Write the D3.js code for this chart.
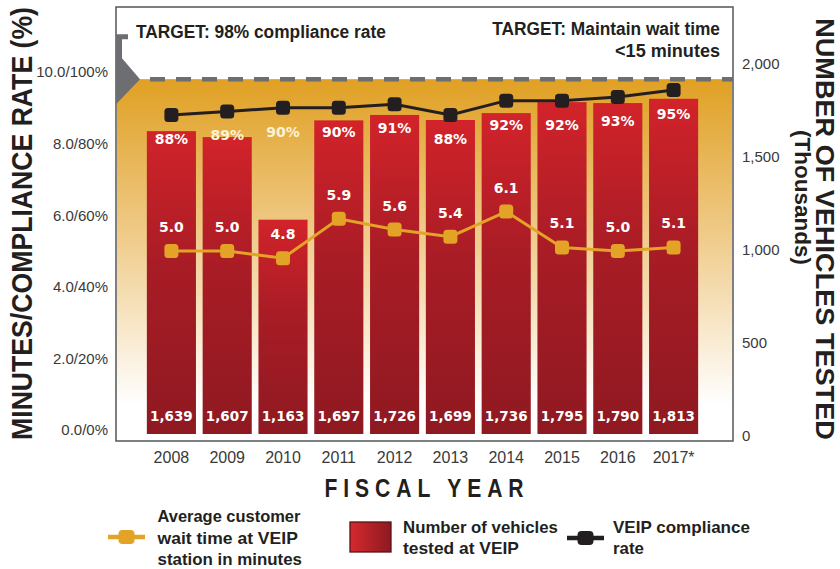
<!DOCTYPE html>
<html>
<head>
<meta charset="utf-8">
<script src="https://cdn.jsdelivr.net/npm/d3@7"></script>
<style>
  html, body { margin: 0; padding: 0; background: #ffffff; }
  svg { display: block; }
</style>
</head>
<body>
<div id="chart"></div>
<script>
// ---------------- DATA ----------------
const years = ["2008", "2009", "2010", "2011", "2012", "2013", "2014", "2015", "2016", "2017*"];
const vehiclesTested = [1639, 1607, 1163, 1697, 1726, 1699, 1736, 1795, 1790, 1813];
const waitTimeMinutes = [5.0, 5.0, 4.8, 5.9, 5.6, 5.4, 6.1, 5.1, 5.0, 5.1];
const complianceRate = [88, 89, 90, 90, 91, 88, 92, 92, 93, 95];
const leftTickValues = [0, 2, 4, 6, 8, 10];
const leftTickLabels = ["0.0/0%", "2.0/20%", "4.0/40%", "6.0/60%", "8.0/80%", "10.0/100%"];
const rightTickValues = [0, 500, 1000, 1500, 2000];
const complianceTarget = 98;
const legendWait = ["Average customer", "wait time at VEIP", "station in minutes"];
const legendBars = ["Number of vehicles", "tested at VEIP"];
const legendCompliance = ["VEIP compliance", "rate"];

// ---------------- SETUP ----------------
const W = 840, H = 569;
const frame = { left: 116, top: 7, right: 733, bottom: 441 };
const SANS = "'Liberation Sans', Arial, 'DejaVu Sans', sans-serif";
const LABEL = "'DejaVu Sans', Verdana, sans-serif";
const ORANGE = "#E3A326", BLACK = "#231F20", GREY = "#6D6E71";

const svg = d3.select("#chart").append("svg").attr("width", W).attr("height", H);
const defs = svg.append("defs");

const x = d3.scaleBand().domain(years).range([143.5, 701.5]).paddingInner(0.12).paddingOuter(0.06);
const yLeft = d3.scaleLinear().domain([0, 10]).range([430, 72]);
const yRight = d3.scaleLinear().domain([0, 2000]).range([436, 64]);

// condensed text helper: draws text, then squeezes/stretches it horizontally to the wanted width
function condensed(parent, o) {
  const g = parent.append("g").attr("transform", `translate(${o.x},${o.y}) rotate(${o.rotate || 0})`);
  const t = g.append("text")
    .attr("text-anchor", o.anchor || "start")
    .attr("font-family", SANS)
    .attr("font-weight", o.weight || 700)
    .attr("font-size", o.size)
    .attr("fill", o.fill || BLACK)
    .text(o.text);
  if (o.spacing) t.attr("letter-spacing", o.spacing);
  const w = t.node().getComputedTextLength();
  if (w > 0 && o.width) t.attr("transform", `scale(${(o.width / w).toFixed(4)},1)`);
  return t;
}

// gradients
const yT = yLeft(complianceTarget / 10);
const bg = defs.append("linearGradient").attr("id", "bgGrad")
  .attr("gradientUnits", "userSpaceOnUse").attr("x1", 0).attr("x2", 0)
  .attr("y1", yT).attr("y2", 405);
bg.append("stop").attr("offset", 0).attr("stop-color", "#E0A023");
bg.append("stop").attr("offset", 0.5).attr("stop-color", "#F0CD8E");
bg.append("stop").attr("offset", 1).attr("stop-color", "#FFFFFF");

const barGrad = defs.append("linearGradient").attr("id", "barGrad")
  .attr("x1", 0).attr("x2", 0).attr("y1", 0).attr("y2", 1);
barGrad.append("stop").attr("offset", 0).attr("stop-color", "#D2232A");
barGrad.append("stop").attr("offset", 0.45).attr("stop-color", "#A81C25");
barGrad.append("stop").attr("offset", 1).attr("stop-color", "#8F1921");

const legGrad = defs.append("linearGradient").attr("id", "legGrad")
  .attr("x1", 0).attr("x2", 1).attr("y1", 0).attr("y2", 0);
legGrad.append("stop").attr("offset", 0).attr("stop-color", "#D42A2F");
legGrad.append("stop").attr("offset", 1).attr("stop-color", "#8E1921");

// frame
svg.append("rect")
  .attr("x", frame.left).attr("y", frame.top)
  .attr("width", frame.right - frame.left).attr("height", frame.bottom - frame.top)
  .attr("fill", "#fff").attr("stroke", "#5E5F62").attr("stroke-width", 1.6);

// background gradient area (below target)
svg.append("rect")
  .attr("x", frame.left + 1).attr("y", yT)
  .attr("width", frame.right - frame.left - 2).attr("height", frame.bottom - yT - 1)
  .attr("fill", "url(#bgGrad)");

// grey target marker on left
svg.append("path")
  .attr("d", `M${frame.left},${yT - 45} H${frame.left + 12} V${yT - 40} H${frame.left + 6} V${yT - 21} L${frame.left + 24},${yT} L${frame.left},${yT + 25} Z`)
  .attr("fill", GREY);

// dashed target line
svg.append("line")
  .attr("x1", frame.left + 34).attr("x2", frame.right)
  .attr("y1", yT).attr("y2", yT)
  .attr("stroke", GREY).attr("stroke-width", 4.5)
  .attr("stroke-dasharray", "15,11");

// bars
svg.append("g").selectAll("rect").data(vehiclesTested).join("rect")
  .attr("x", (d, i) => x(years[i]))
  .attr("y", d => yRight(d))
  .attr("width", x.bandwidth())
  .attr("height", d => yRight(0) - yRight(d) - 2)
  .attr("fill", "url(#barGrad)");

// bar value labels
svg.append("g").selectAll("text").data(vehiclesTested).join("text")
  .attr("x", (d, i) => x(years[i]) + x.bandwidth() / 2)
  .attr("y", yRight(0) - 15.5)
  .attr("text-anchor", "middle")
  .attr("font-family", LABEL).attr("font-weight", 700).attr("font-size", 13.5)
  .attr("fill", "#fff")
  .text(d => d3.format(",")(d));

// wait-time line
const cx = i => x(years[i]) + x.bandwidth() / 2;
const waitLine = d3.line().x((d, i) => cx(i)).y(d => yLeft(d));
svg.append("path").datum(waitTimeMinutes)
  .attr("d", waitLine).attr("fill", "none")
  .attr("stroke", ORANGE).attr("stroke-width", 3);
svg.append("g").selectAll("rect").data(waitTimeMinutes).join("rect")
  .attr("x", (d, i) => cx(i) - 7).attr("y", d => yLeft(d) - 7)
  .attr("width", 14).attr("height", 14).attr("rx", 3.5)
  .attr("fill", ORANGE);
svg.append("g").selectAll("text").data(waitTimeMinutes).join("text")
  .attr("x", (d, i) => cx(i)).attr("y", d => yLeft(d) - 19)
  .attr("text-anchor", "middle")
  .attr("font-family", LABEL).attr("font-weight", 700).attr("font-size", 14)
  .attr("fill", "#fff")
  .text(d => d3.format(".1f")(d));

// compliance line
const compLine = d3.line().x((d, i) => cx(i)).y(d => yLeft(d / 10));
svg.append("path").datum(complianceRate)
  .attr("d", compLine).attr("fill", "none")
  .attr("stroke", BLACK).attr("stroke-width", 3);
svg.append("g").selectAll("rect").data(complianceRate).join("rect")
  .attr("x", (d, i) => cx(i) - 7).attr("y", d => yLeft(d / 10) - 7)
  .attr("width", 14).attr("height", 14).attr("rx", 3.5)
  .attr("fill", BLACK);
svg.append("g").selectAll("text").data(complianceRate).join("text")
  .attr("x", (d, i) => cx(i)).attr("y", d => yLeft(d / 10) + 29)
  .attr("text-anchor", "middle")
  .attr("font-family", LABEL).attr("font-weight", 700).attr("font-size", 14)
  .attr("fill", (d, i) => (yLeft(d / 10) + 23 < yRight(vehiclesTested[i]) ? "#FDF1D6" : "#fff"))
  .text(d => d + "%");

// axes
const axL = svg.append("g").attr("transform", `translate(${frame.left},0)`)
  .call(d3.axisLeft(yLeft).tickValues(leftTickValues)
    .tickFormat((d, i) => leftTickLabels[i]).tickSize(0).tickPadding(8));
axL.select(".domain").remove();
axL.selectAll("text").attr("font-family", SANS).attr("font-size", 15).attr("fill", "#3a3a3a");

const axR = svg.append("g").attr("transform", `translate(${frame.right},0)`)
  .call(d3.axisRight(yRight).tickValues(rightTickValues)
    .tickFormat(d3.format(",")).tickSize(0).tickPadding(9));
axR.select(".domain").remove();
axR.selectAll("text").attr("font-family", SANS).attr("font-size", 15).attr("fill", "#3a3a3a");

const axB = svg.append("g").attr("transform", `translate(0,${frame.bottom})`)
  .call(d3.axisBottom(x).tickSize(0).tickPadding(11));
axB.select(".domain").remove();
axB.selectAll("text").attr("font-family", SANS).attr("font-size", 16).attr("fill", "#3a3a3a");

// axis titles
condensed(svg, { x: 32, y: 223.5, rotate: -90, anchor: "middle", size: 30, width: 433,
  text: "MINUTES/COMPLIANCE RATE (%)" });
condensed(svg, { x: 816, y: 229, rotate: 90, anchor: "middle", size: 26, width: 422,
  text: "NUMBER OF VEHICLES TESTED" });
condensed(svg, { x: 795, y: 197.5, rotate: 90, anchor: "middle", size: 22, width: 135,
  text: "(Thousands)" });
condensed(svg, { x: 427, y: 497, anchor: "middle", size: 25, width: 205, spacing: 7,
  text: "FISCAL YEAR" });

// target annotations
condensed(svg, { x: 136, y: 38, size: 18.5, width: 250, text: "TARGET: 98% compliance rate" });
condensed(svg, { x: 720, y: 35, anchor: "end", size: 18.5, width: 228, text: "TARGET: Maintain wait time" });
condensed(svg, { x: 720, y: 57, anchor: "end", size: 18.5, width: 105, text: "<15 minutes" });

// legend
const leg = svg.append("g");
leg.append("line").attr("x1", 108).attr("x2", 145).attr("y1", 537).attr("y2", 537)
  .attr("stroke", ORANGE).attr("stroke-width", 4.5);
leg.append("rect").attr("x", 118.5).attr("y", 530).attr("width", 16).attr("height", 14).attr("rx", 4)
  .attr("fill", ORANGE);
const waitWidths = [143, 140.5, 144.5];
legendWait.forEach((t, i) => condensed(leg, { x: 157.5, y: 522 + i * 21.5, size: 16.5, width: waitWidths[i], text: t }));

leg.append("rect").attr("x", 350).attr("y", 522).attr("width", 41).attr("height", 30)
  .attr("fill", "url(#legGrad)").attr("stroke", "#5B1217").attr("stroke-width", 1.3);
const barWidths = [155, 116];
legendBars.forEach((t, i) => condensed(leg, { x: 403, y: 532.5 + i * 21.5, size: 16.5, width: barWidths[i], text: t }));

leg.append("line").attr("x1", 567).attr("x2", 604).attr("y1", 538).attr("y2", 538)
  .attr("stroke", BLACK).attr("stroke-width", 4.5);
leg.append("rect").attr("x", 577.5).attr("y", 531).attr("width", 16).attr("height", 14).attr("rx", 4)
  .attr("fill", BLACK);
const compWidths = [137, 31];
legendCompliance.forEach((t, i) => condensed(leg, { x: 613, y: 532.5 + i * 21.5, size: 16.5, width: compWidths[i], text: t }));
</script>
</body>
</html>
